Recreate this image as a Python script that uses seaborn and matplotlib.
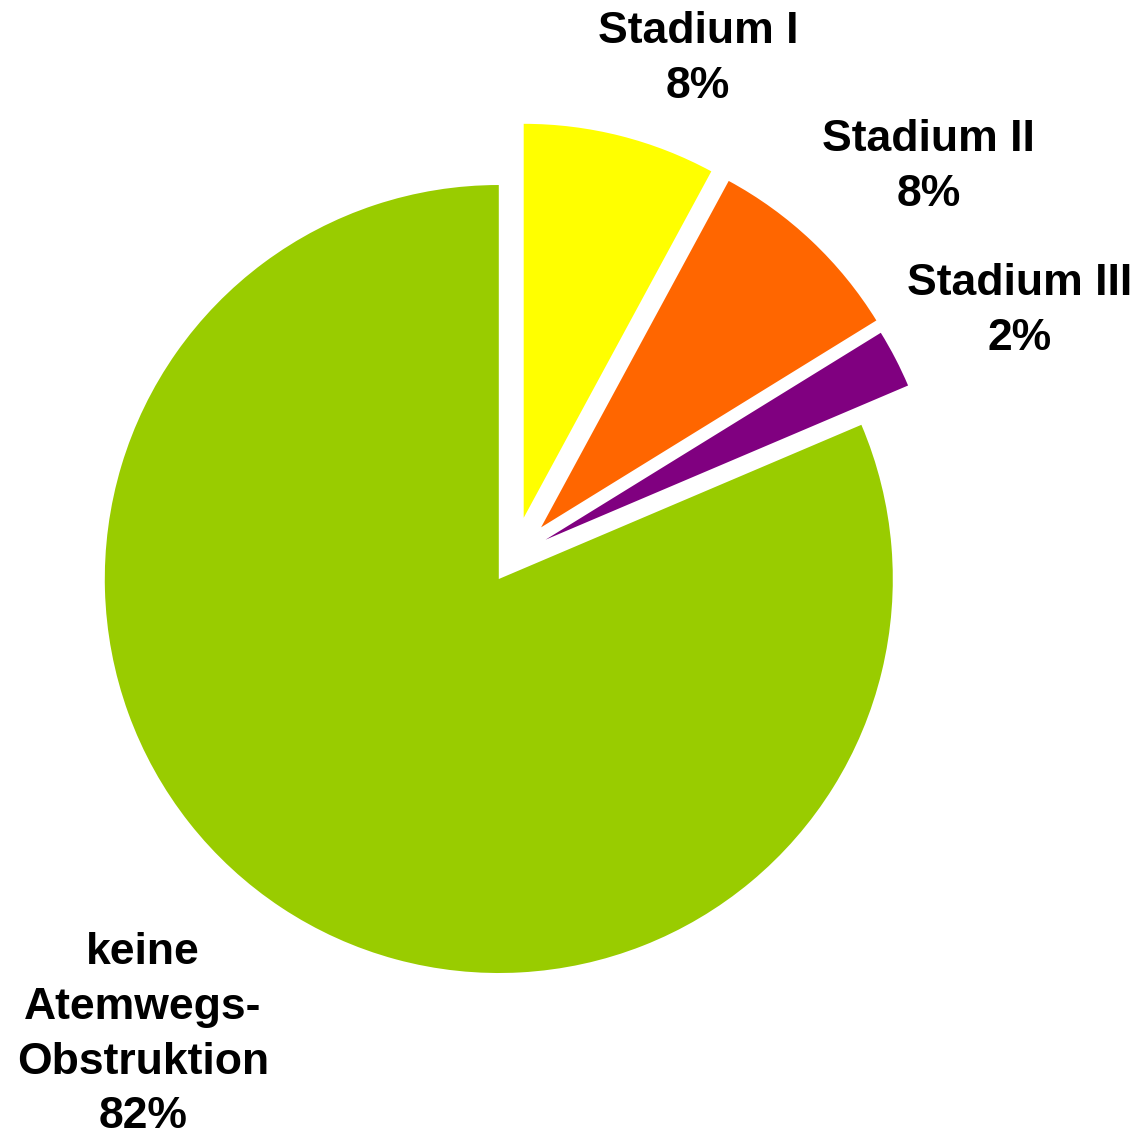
import matplotlib
matplotlib.use("Agg")
import matplotlib.pyplot as plt
import seaborn as sns

# Data
categories = ["Stadium I", "Stadium II", "Stadium III", "keine\nAtemwegs-\nObstruktion"]
values = [7.9, 8.3, 2.4, 81.4]
pct_labels = ["8%", "8%", "2%", "82%"]
colors = ["#FFFF00", "#FF6600", "#800080", "#99CC00"]

sns.set_theme(style="white")
plt.rcParams["font.family"] = ["Liberation Sans", "DejaVu Sans"]

# Layout
explode = [0.10, 0.10, 0.09, 0.07]
label_pos = [(0.467, 1.262), (1.053, 0.988), (1.284, 0.622), (-0.942, -1.215)]

fig = plt.figure(figsize=(11.4, 11.42), dpi=100)
ax = fig.add_axes([0, 0, 1, 1])
ax.pie(values, colors=colors, explode=explode, startangle=90, counterclock=False,
       radius=1.0, wedgeprops=dict(linewidth=0))
for cat, pct, (x, y) in zip(categories, pct_labels, label_pos):
    ax.text(x, y, f"{cat}\n{pct}", ha="center", va="center", multialignment="center",
            fontsize=32, fontweight="bold", color="black", linespacing=1.43)
ax.set_xlim(-1.3046, 1.5888)
ax.set_ylim(-1.4873, 1.4112)
ax.set_aspect("auto")
ax.axis("off")
fig.savefig("out.png", dpi=100, facecolor="white")
